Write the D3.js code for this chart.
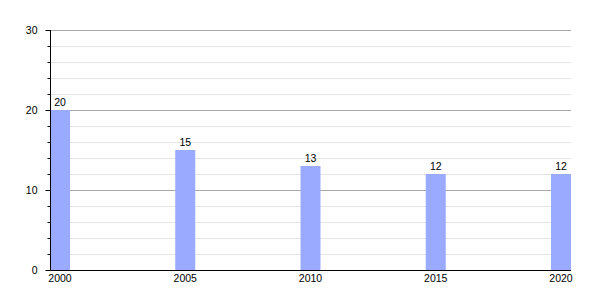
<!DOCTYPE html>
<html><head><meta charset="utf-8">
<script src="https://cdn.jsdelivr.net/npm/d3@7"></script>
<style>body{margin:0;background:#fff}svg{display:block}text{font-family:"Liberation Sans",Arial,sans-serif}</style>
</head><body><svg id="c" width="600" height="300"></svg>
<script>
const years = [2000, 2005, 2010, 2015, 2020];
const values = [20, 15, 13, 12, 12];
const yTicks = [0, 10, 20, 30];
const minorTicks = [2, 4, 6, 8, 12, 14, 16, 18, 22, 24, 26, 28];

(function () {
const svg = d3.select("#c");
const mLeft = 50, mRight = 571, mTop = 30, mBottom = 270, barW = 20;
const x = d3.scaleLinear().domain([2000, 2020]).range([mLeft, mRight - barW]);
const y = d3.scaleLinear().domain([0, 30]).range([mBottom, mTop]);

// minor gridlines
svg.append("g").selectAll("line").data(minorTicks).join("line")
  .attr("x1", mLeft).attr("x2", mRight).attr("y1", d => y(d) + 0.5).attr("y2", d => y(d) + 0.5)
  .attr("stroke", "#e4e4e4").attr("stroke-width", 1);
// major gridlines
svg.append("g").selectAll("line").data(yTicks.filter(d => d > 0)).join("line")
  .attr("x1", mLeft).attr("x2", mRight).attr("y1", d => y(d) + 0.5).attr("y2", d => y(d) + 0.5)
  .attr("stroke", "#a8a8a8").attr("stroke-width", 1);

// bars
svg.append("g").selectAll("rect").data(values).join("rect")
  .attr("x", (d, i) => x(years[i])).attr("width", barW)
  .attr("y", d => y(d)).attr("height", d => mBottom - y(d))
  .attr("fill", "#99aaff");

// value labels
svg.append("g").selectAll("text").data(values).join("text")
  .attr("x", (d, i) => x(years[i]) + barW / 2).attr("y", d => y(d) - 4)
  .attr("text-anchor", "middle").attr("font-size", 10.5).attr("fill", "#000")
  .text(d => d);

// y axis
const yAxis = d3.axisLeft(y).tickValues(yTicks).tickSize(5).tickPadding(8).tickFormat(d3.format("d"));
const gy = svg.append("g").attr("transform", `translate(${mLeft + 0.5},0)`).call(yAxis);
gy.select(".domain").attr("stroke", "#000").attr("d", `M0,${mTop}V${mBottom}`);
gy.selectAll(".tick text").attr("font-size", 10.5).attr("font-family", "Liberation Sans,Arial,sans-serif");
const ym = d3.axisLeft(y).tickValues(minorTicks).tickSize(3).tickFormat("");
const gym = svg.append("g").attr("transform", `translate(${mLeft + 0.5},0)`).call(ym);
gym.select(".domain").remove();

// x axis
svg.append("line").attr("x1", mLeft).attr("x2", mRight).attr("y1", mBottom + 0.5).attr("y2", mBottom + 0.5).attr("stroke", "#000");
svg.append("g").selectAll("text").data(years).join("text")
  .attr("x", d => x(d) + barW / 2).attr("y", mBottom + 12)
  .attr("text-anchor", "middle").attr("font-size", 10.5).attr("fill", "#000")
  .text(d => d);
})();
</script></body></html>
